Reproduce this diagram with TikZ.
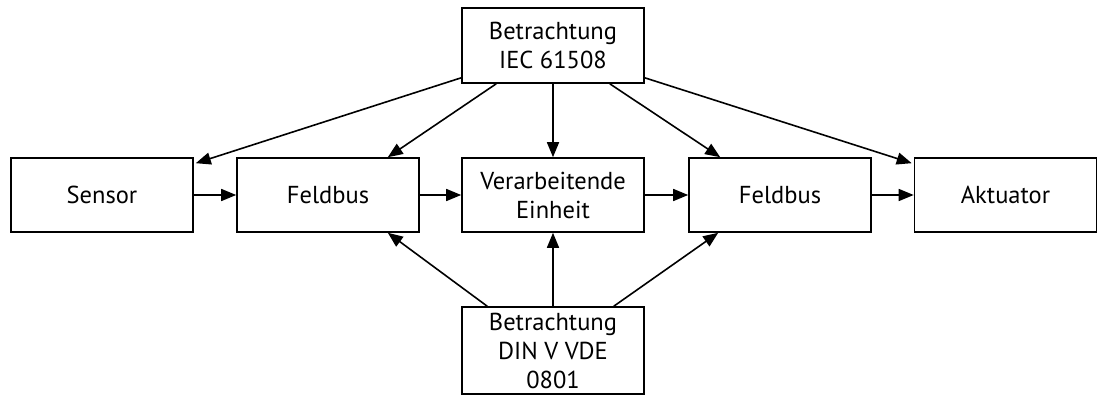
\documentclass[tikz,border=0pt]{standalone}
\usepackage{fontspec}
\setmainfont{PT Sans}
\usetikzlibrary{arrows.meta,calc}
\begin{document}
\begin{tikzpicture}[x=1pt,y=-1pt,
  box/.style={draw, line width=1.6pt, minimum width=182pt, minimum height=74pt,
    align=center, inner sep=0pt, font=\fontsize{24.5}{29}\selectfont},
  conn/.style={line width=1.6pt, -{Triangle[length=15pt,width=12pt]}}]
\useasboundingbox (0,0) rectangle (1097,396);
% signal chain
\node[box] (sensor) at (102,195) {Sensor};
\node[box] (fb1) at (328,195) {Feldbus};
\node[box] (proc) at (553,195) {Verarbeitende\\Einheit};
\node[box] (fb2) at (780,195) {Feldbus};
\node[box] (akt) at (1005.5,195) {Aktuator};
% standards
\node[box, minimum height=75pt] (iec) at (553,45.5) {Betrachtung\\IEC 61508};
\node[box, minimum height=87pt] (din) at (553,350.5) {Betrachtung\\DIN V VDE\\0801};
% chain connectors
\draw[conn] (sensor) -- (fb1);
\draw[conn] (fb1) -- (proc);
\draw[conn] (proc) -- (fb2);
\draw[conn] (fb2) -- (akt);
% IEC 61508 scope
\draw[conn] ($(iec.south west)+(0,-6)$) -- ($(sensor.north east)+(2,6)$);
\draw[conn] ($(iec.south west)+(35,0)$) -- ($(fb1.north east)+(-32,0)$);
\draw[conn] (iec) -- (proc);
\draw[conn] ($(iec.south east)+(-35,0)$) -- ($(fb2.north west)+(32,0)$);
\draw[conn] ($(iec.south east)+(0,-6)$) -- ($(akt.north west)+(-2,6)$);
% DIN V VDE 0801 scope
\draw[conn] ($(din.north west)+(26,0)$) -- ($(fb1.south east)+(-32,0)$);
\draw[conn] (din) -- (proc);
\draw[conn] ($(din.north east)+(-31,0)$) -- ($(fb2.south west)+(30,0)$);
\end{tikzpicture}
\end{document}
